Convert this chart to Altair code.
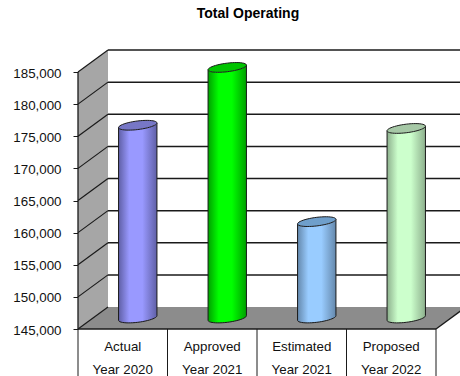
import altair as alt
import numpy as np
import pandas as pd

title = "Total Operating"
line_one = ["Actual", "Approved", "Estimated", "Proposed"]
line_two = ["Year 2020", "Year 2021", "Year 2021", "Year 2022"]
values = [175000, 184000, 160000, 174500]
ticks = [145000, 150000, 155000, 160000, 165000, 170000, 175000, 180000, 185000]
body_edge = ["#5f5fa6", "#00a000", "#6488ac", "#8db08d"]
body_mid = ["#9999ff", "#00ff00", "#99ccff", "#ccffcc"]
rim_fill = ["#7777c6", "#00c400", "#6f9fcb", "#a6c8a6"]

# Canvas layout: scale factors turn the box's pixel sizes into data units.
PX_X = 89.5
PX_PER_VALUE = 257 / 40000
LEFT, BASE, WIDTH, HEIGHT, TOP = 78, 329, 460, 352, 24
DEPTH_X = 30 / PX_X
DEPTH_Y = 22 / PX_PER_VALUE
FLOOR, CEIL = ticks[0], ticks[-1]
N = len(values)

x_scale = alt.Scale(domain=[-LEFT / PX_X, (WIDTH - LEFT) / PX_X], nice=False, zero=False)
y_scale = alt.Scale(
    domain=[FLOOR - (TOP + HEIGHT - BASE) / PX_PER_VALUE, FLOOR + (BASE - TOP) / PX_PER_VALUE],
    nice=False,
    zero=False,
)
X = lambda f="x": alt.X(f"{f}:Q", scale=x_scale, axis=None)
Y = lambda f="y": alt.Y(f"{f}:Q", scale=y_scale, axis=None)
INK = "#1a1a1a"


def segments(rows, **style):
    """Straight strokes from a table with x, y, x2, y2 columns."""
    return (
        alt.Chart(pd.DataFrame(rows))
        .mark_rule(clip=True, **style)
        .encode(x=X(), x2="x2:Q", y=Y(), y2="y2:Q")
    )


# Side wall and floor of the box.
wall = (
    alt.Chart(pd.DataFrame({"x": [0, DEPTH_X], "y": [FLOOR, FLOOR + DEPTH_Y],
                            "y2": [CEIL, CEIL + DEPTH_Y]}))
    .mark_area(color="#a6a6a6", stroke=None)
    .encode(
        x=X(),
        y=alt.Y("y:Q", scale=y_scale,
                axis=alt.Axis(values=ticks, format=",d", offset=-LEFT, domain=False, grid=False,
                              title=None, tickSize=5, tickColor=INK, tickWidth=1, labelPadding=12,
                              labelOffset=1, labelFont="Liberation Sans", labelFontSize=13.33,
                              labelColor="#111111")),
        y2="y2:Q",
    )
)
floor = (
    alt.Chart(pd.DataFrame({"y": [FLOOR, FLOOR + DEPTH_Y], "x": [0, DEPTH_X],
                            "x2": [N, N + DEPTH_X]}))
    .mark_area(color="#8c8c8c", orient="horizontal", clip=True)
    .encode(y=Y(), x=X(), x2="x2:Q")
)

# Gridlines run along the back wall and slant down the side wall.
back_lines = segments(
    [{"x": DEPTH_X, "x2": N + 2, "y": t + DEPTH_Y, "y2": t + DEPTH_Y} for t in ticks[1:]],
    color=INK, strokeWidth=1.5,
)
slants = segments(
    [{"x": 0, "x2": DEPTH_X, "y": t, "y2": t + DEPTH_Y} for t in ticks],
    color=INK, strokeWidth=1.2,
)
frame = segments(
    [{"x": 0, "x2": 0, "y": FLOOR, "y2": CEIL},
     {"x": 0, "x2": N, "y": FLOOR, "y2": FLOOR},
     {"x": N, "x2": N + DEPTH_X, "y": FLOOR, "y2": FLOOR + DEPTH_Y}],
    color=INK, strokeWidth=1.3,
)

# Category table under the floor.
bottom = y_scale.domain[0]
table = segments(
    [{"x": i, "x2": i, "y": FLOOR, "y2": bottom} for i in range(N + 1)],
    color=INK, strokeWidth=1,
)
labels_df = pd.DataFrame({"x": np.arange(N) + 0.5, "y": FLOOR, "a": line_one, "b": line_two})
text_style = dict(font="Liberation Sans", fontSize=13.33, color="#111111", baseline="middle")
label_a = alt.Chart(labels_df).mark_text(dy=18, **text_style).encode(x=X(), y=Y(), text="a:N")
label_b = alt.Chart(labels_df).mark_text(dy=41, **text_style).encode(x=X(), y=Y(), text="b:N")

# Cylinders: a shaded body area, a rim ellipse and dark outlines.
RIM_A, RIM_B, RIM_SHEAR = 19.2, 4.3, 0.12
ANGLES = np.linspace(0, np.pi, 25)


def rim(cx, level, angles):
    px = RIM_A * np.cos(angles)
    py = RIM_B * np.sin(angles) - RIM_SHEAR * px
    return cx + px / PX_X, level - py / PX_PER_VALUE


def cylinder(i):
    cx = i + 0.5 + DEPTH_X / 2
    top = values[i] + DEPTH_Y / 2
    base = FLOOR + DEPTH_Y / 2
    shade = alt.Gradient(
        gradient="linear", x1=0, x2=1, y1=0, y2=0,
        stops=[alt.GradientStop(offset=0, color=body_edge[i]),
               alt.GradientStop(offset=0.28, color=body_mid[i]),
               alt.GradientStop(offset=0.62, color=body_mid[i]),
               alt.GradientStop(offset=1, color=body_edge[i])],
    )
    ax, ay_top = rim(cx, top, ANGLES[::-1])
    _, ay_base = rim(cx, base, ANGLES[::-1])
    body = (
        alt.Chart(pd.DataFrame({"x": ax, "y": ay_top, "y2": ay_base}))
        .mark_area(color=shade)
        .encode(x=X(), y=Y(), y2="y2:Q")
    )
    lx, ly = rim(cx, base, ANGLES)
    outline_df = pd.DataFrame({
        "x": np.r_[rim(cx, top, ANGLES[:1])[0], lx, rim(cx, top, ANGLES[-1:])[0]],
        "y": np.r_[rim(cx, top, ANGLES[:1])[1], ly, rim(cx, top, ANGLES[-1:])[1]],
    }).reset_index(names="i")
    outline = (
        alt.Chart(outline_df)
        .mark_line(color=INK, strokeWidth=1)
        .encode(x=X(), y=Y(), order="i:Q")
    )
    _, up = rim(cx, top, -ANGLES[::-1])
    cap = (
        alt.Chart(pd.DataFrame({"x": ax, "y": up, "y2": ay_top}))
        .mark_area(color=rim_fill[i])
        .encode(x=X(), y=Y(), y2="y2:Q")
    )
    ring_angles = np.linspace(0, 2 * np.pi, 49)
    rx, ry = rim(cx, top, ring_angles)
    ring = (
        alt.Chart(pd.DataFrame({"x": rx, "y": ry}).reset_index(names="i"))
        .mark_line(color=INK, strokeWidth=1)
        .encode(x=X(), y=Y(), order="i:Q")
    )
    return [body, outline, cap, ring]


layers = [wall, floor, back_lines, slants, frame, table, label_a, label_b]
for i in range(N):
    layers += cylinder(i)

chart = (
    alt.layer(*layers)
    .resolve_axis(y="independent")
    .properties(
        width=WIDTH,
        height=HEIGHT,
        padding={"left": 0, "right": 0, "top": TOP, "bottom": 0},
        autosize=alt.AutoSizeParams(type="none"),
        background="white",
        title=alt.TitleParams(title, font="Liberation Sans", fontSize=14, fontWeight="bold",
                              color="#000000", anchor="middle", dx=18, offset=3),
    )
    .configure_view(stroke=None)
)

chart.save("out.html", embed_options={"renderer": "svg", "actions": False})
